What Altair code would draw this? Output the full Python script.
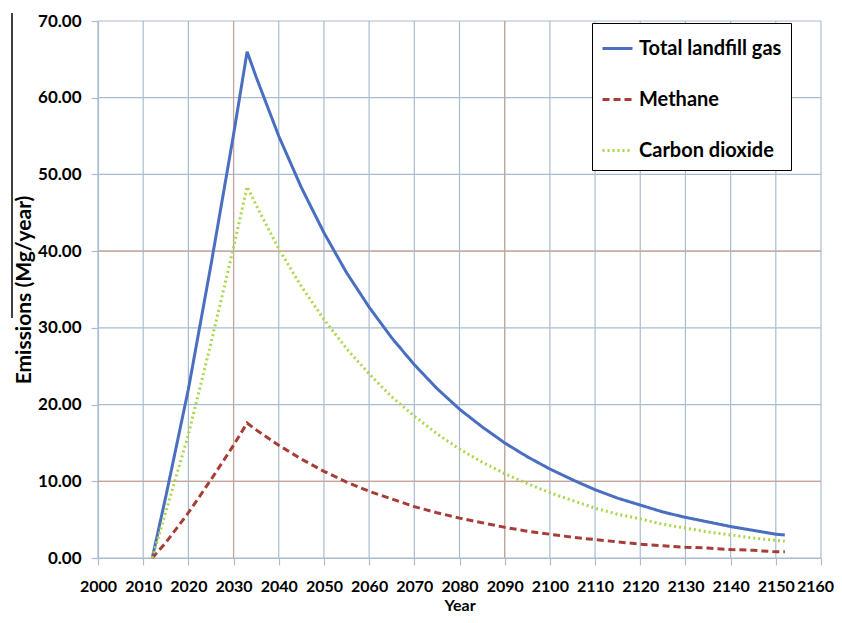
import altair as alt
import pandas as pd

series_names = ["Total landfill gas", "Methane", "Carbon dioxide"]
series_colors = ["#4a6ec0", "#a63e38", "#aad64a"]

years = [2012, 2015, 2020, 2025, 2030, 2033, 2035, 2040, 2045, 2050, 2055,
         2060, 2065, 2070, 2075, 2080, 2085, 2090, 2095, 2100, 2105, 2110,
         2115, 2120, 2125, 2130, 2135, 2140, 2145, 2150, 2152]
total = [0.0, 8.0, 22.0, 38.2, 55.2, 66.0, 62.7, 55.0, 48.3, 42.4, 37.2,
         32.7, 28.7, 25.2, 22.1, 19.4, 17.1, 15.0, 13.2, 11.6, 10.2, 8.9,
         7.8, 6.9, 6.0, 5.3, 4.7, 4.1, 3.6, 3.1, 3.0]
methane = [0.0, 2.0, 5.9, 10.2, 14.7, 17.6, 16.7, 14.7, 12.9, 11.3, 9.9,
           8.7, 7.7, 6.7, 5.9, 5.2, 4.6, 4.0, 3.5, 3.1, 2.7, 2.4,
           2.1, 1.8, 1.6, 1.4, 1.3, 1.1, 1.0, 0.8, 0.8]
co2 = [0.0, 6.0, 16.1, 28.0, 40.5, 48.4, 46.0, 40.3, 35.4, 31.1, 27.3,
       24.0, 21.0, 18.5, 16.2, 14.2, 12.5, 11.0, 9.7, 8.5, 7.5, 6.5,
       5.7, 5.1, 4.4, 3.9, 3.4, 3.0, 2.6, 2.3, 2.2]

x_ticks = list(range(2000, 2161, 10))
y_ticks = list(range(0, 71, 10))
x_ticks_tinted = [2030, 2090]
y_ticks_tinted = [10, 40]

rows = []
for name, vals in zip(series_names, [total, methane, co2]):
    for yr, v in zip(years, vals):
        rows.append({"Year": yr, "Emissions": v, "Series": name})
df = pd.DataFrame(rows)

FONT = "Lato"
GRID = "#a9bcd0"
GRID_RED = "#caa494"

x_scale = alt.Scale(domain=[2000, 2160], nice=False, zero=False)
y_scale = alt.Scale(domain=[0, 70], nice=False)

legend = alt.Legend(
    title=None, orient="none", legendX=494, legendY=2,
    strokeColor="black", fillColor="white", padding=9,
    symbolType="stroke", symbolSize=900, symbolStrokeWidth=3,
    labelFont=FONT, labelFontSize=20, labelFontWeight="bold",
    labelColor="black", labelOffset=5, rowPadding=24, labelLimit=300,
)

x_axis = alt.Axis(values=x_ticks, format="d", title="Year", grid=False,
                  labelFont=FONT, labelFontSize=16, labelFontWeight="bold",
                  labelColor="black", labelPadding=13, labelFlush=False,
                  labelOffset={"condition": {"test": "datum.value == 2160", "value": -6},
                               "value": 0},
                  tickSize=7, tickColor=GRID, domainColor=GRID,
                  titleFont=FONT, titleFontSize=16, titleFontWeight="bold",
                  titleColor="black", titlePadding=3, labelOverlap=False)
y_axis = alt.Axis(values=y_ticks, format=".2f", title="Emissions (Mg/year)", grid=False,
                  labelFont=FONT, labelFontSize=17, labelFontWeight="bold",
                  labelColor="black", labelPadding=10, labelFlush=False,
                  tickSize=7, tickColor=GRID, domainColor=GRID,
                  titleFont=FONT, titleFontSize=21, titleFontWeight="bold",
                  titleColor="black", titlePadding=3)

xg = pd.DataFrame({"Year": x_ticks})
yg = pd.DataFrame({"Emissions": y_ticks})

vgrid = alt.Chart(xg).mark_rule(color=GRID, strokeWidth=1.2).encode(
    x=alt.X("Year:Q", scale=x_scale, axis=x_axis))
vgrid_t = alt.Chart(xg).transform_filter(
    alt.FieldOneOfPredicate(field="Year", oneOf=x_ticks_tinted)
).mark_rule(color=GRID_RED, strokeWidth=1.2).encode(x=alt.X("Year:Q", scale=x_scale))
hgrid = alt.Chart(yg).mark_rule(color=GRID, strokeWidth=1.2).encode(
    y=alt.Y("Emissions:Q", scale=y_scale, axis=y_axis))
hgrid_t = alt.Chart(yg).transform_filter(
    alt.FieldOneOfPredicate(field="Emissions", oneOf=y_ticks_tinted)
).mark_rule(color=GRID_RED, strokeWidth=1.2).encode(y=alt.Y("Emissions:Q", scale=y_scale))

lines = alt.Chart(df).mark_line(strokeCap="butt").encode(
    x=alt.X("Year:Q", scale=x_scale),
    y=alt.Y("Emissions:Q", scale=y_scale),
    color=alt.Color("Series:N", sort=series_names,
                    scale=alt.Scale(domain=series_names, range=series_colors),
                    legend=legend),
    strokeDash=alt.StrokeDash("Series:N", sort=series_names,
                              scale=alt.Scale(domain=series_names,
                                              range=[[1, 0], [7, 4], [2, 3]]),
                              legend=legend),
    strokeWidth=alt.StrokeWidth("Series:N",
                                scale=alt.Scale(domain=series_names, range=[3, 3, 2]),
                                legend=None),
    order=alt.Order("Year:Q"),
)

edge = alt.Chart(pd.DataFrame({"k": [0]})).mark_rule(color="black", strokeWidth=1.5).encode(
    x=alt.value(-86), y=alt.value(-8), y2=alt.value(297)
)

chart = alt.layer(vgrid, hgrid, vgrid_t, hgrid_t, edge, lines).properties(
    width=723, height=537,
    autosize=alt.AutoSizeParams(type="none"),
    padding={"left": 90, "top": 13, "right": 13, "bottom": 55},
    background="white",
).configure_view(stroke=None).configure_axis(domainWidth=1.2, tickWidth=1.2)

chart.save("out.html", embed_options={"renderer": "svg", "actions": False})
